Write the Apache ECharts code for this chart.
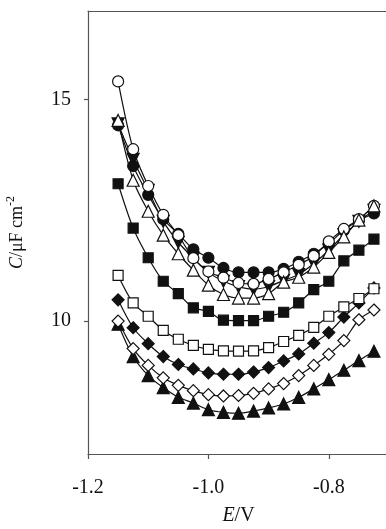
<!DOCTYPE html>
<html>
<head>
<meta charset="utf-8">
<script src="https://cdn.jsdelivr.net/npm/echarts@6/dist/echarts.min.js"></script>
<style>
  html, body { margin: 0; padding: 0; background: #fff; }
  #chart { width: 386px; height: 529px; }
</style>
</head>
<body>
<div id="chart"></div>
<script>
// Electrode potential E / V
const potentials = [-1.15, -1.125, -1.1, -1.075, -1.05, -1.025, -1.0, -0.975, -0.95,
  -0.925, -0.9, -0.875, -0.85, -0.825, -0.8, -0.775, -0.75, -0.725];

// Differential capacitance C / µF cm^-2, one array per curve
const openCircle   = [15.41, 13.88, 13.05, 12.40, 11.94, 11.42, 11.12, 10.98, 10.86, 10.84, 10.95, 11.10, 11.27, 11.47, 11.80, 12.08, 12.30, 12.60];
const filledCircle = [14.42, 13.50, 12.85, 12.30, 11.97, 11.62, 11.43, 11.20, 11.10, 11.10, 11.10, 11.18, 11.34, 11.52, 11.75, 12.05, 12.27, 12.43];
const downTriangle = [14.45, 13.65, 12.95, 12.25, 11.78, 11.42, 11.10, 10.90, 10.78, 10.72, 10.78, 10.92, 11.05, 11.30, 11.60, 11.95, 12.25, 12.50];
const openTriangle = [14.53, 13.18, 12.48, 11.94, 11.52, 11.15, 10.81, 10.60, 10.52, 10.52, 10.62, 10.88, 10.99, 11.22, 11.55, 11.90, 12.28, 12.60];
const filledSquare = [13.10, 12.10, 11.43, 10.90, 10.62, 10.30, 10.22, 10.02, 10.01, 10.01, 10.11, 10.20, 10.41, 10.71, 10.90, 11.36, 11.60, 11.85];
const openSquare   = [11.03, 10.41, 10.11, 9.79, 9.59, 9.45, 9.36, 9.33, 9.32, 9.33, 9.40, 9.54, 9.68, 9.86, 10.11, 10.32, 10.51, 10.73];
const filledDiamond = [10.48, 9.85, 9.49, 9.20, 9.02, 8.92, 8.83, 8.80, 8.80, 8.85, 8.95, 9.10, 9.26, 9.50, 9.74, 10.09, 10.41, 10.75];
const openDiamond  = [10.00, 9.38, 9.00, 8.72, 8.55, 8.43, 8.34, 8.31, 8.32, 8.37, 8.47, 8.59, 8.77, 9.00, 9.25, 9.56, 10.03, 10.25];
const filledTriangle = [9.93, 9.20, 8.77, 8.50, 8.28, 8.15, 8.00, 7.94, 7.92, 7.97, 8.04, 8.13, 8.28, 8.47, 8.68, 8.89, 9.11, 9.32];

const xTicks = [-1.2, -1.0, -0.8];
const yTicks = [10, 15];

const INK = '#111';
const AXIS = '#555';
const FONT = 'Liberation Serif';

function pairs(values) {
  return potentials.map((e, i) => [e, values[i]]);
}

function curve(values, symbol, filled, size, rotate) {
  return {
    type: 'line',
    data: pairs(values),
    smooth: 0.3,
    symbol: symbol,
    symbolSize: size,
    symbolRotate: rotate || 0,
    showSymbol: true,
    lineStyle: { color: INK, width: 1.2 },
    itemStyle: { color: filled ? INK : '#fff', borderColor: INK, borderWidth: 1.2 },
    emphasis: { disabled: true },
    animation: false
  };
}

const chart = echarts.init(document.getElementById('chart'), null, { renderer: 'canvas' });

chart.setOption({
  backgroundColor: '#fff',
  animation: false,
  grid: { left: 88, top: 11, right: -3, bottom: 75, containLabel: false, outerBoundsMode: 'none' },
  xAxis: [{
    type: 'value',
    min: -1.2,
    max: -0.7,
    position: 'bottom',
    splitLine: { show: false },
    axisLine: { show: true, onZero: false, lineStyle: { color: AXIS, width: 1.2 } },
    axisTick: { show: true, customValues: xTicks, length: 5, inside: false, lineStyle: { color: AXIS, width: 1.2 } },
    axisLabel: {
      customValues: xTicks,
      formatter: v => v.toFixed(1),
      color: INK, fontFamily: FONT, fontSize: 20, margin: 24
    },
    name: '{i|E}{n|/V}',
    nameLocation: 'middle',
    nameGap: 52,
    nameTextStyle: {
      rich: {
        i: { fontFamily: FONT, fontSize: 20, fontStyle: 'italic', color: INK },
        n: { fontFamily: FONT, fontSize: 20, color: INK }
      }
    }
  }, {
    type: 'value',
    min: -1.2,
    max: -0.7,
    position: 'top',
    splitLine: { show: false },
    axisLine: { show: true, onZero: false, lineStyle: { color: AXIS, width: 1.2 } },
    axisTick: { show: false },
    axisLabel: { show: false }
  }],
  yAxis: {
    type: 'value',
    min: 7,
    max: 17,
    splitLine: { show: false },
    axisLine: { show: true, onZero: false, lineStyle: { color: AXIS, width: 1.2 } },
    axisTick: { show: true, customValues: yTicks, length: 4, lineStyle: { color: AXIS, width: 1.2 } },
    axisLabel: {
      customValues: yTicks,
      color: INK, fontFamily: FONT, fontSize: 20, margin: 17
    },
    name: '{i|C}{n|/μF cm}{s|-2}',
    nameLocation: 'middle',
    nameGap: 62,
    nameRotate: 90,
    nameTextStyle: {
      rich: {
        i: { fontFamily: FONT, fontSize: 18, fontStyle: 'italic', color: INK, lineHeight: 21, verticalAlign: 'bottom' },
        n: { fontFamily: FONT, fontSize: 18, color: INK, lineHeight: 21, verticalAlign: 'bottom' },
        s: { fontFamily: FONT, fontSize: 12, color: INK, lineHeight: 21, verticalAlign: 'top' }
      }
    }
  },
  series: [
    curve(filledTriangle, 'triangle', true, 12),
    curve(openDiamond, 'diamond', false, 12),
    curve(filledDiamond, 'diamond', true, 12),
    curve(openSquare, 'rect', false, 10),
    curve(filledSquare, 'rect', true, 10),
    curve(filledCircle, 'circle', true, 11),
    curve(downTriangle, 'triangle', true, 12, 180),
    curve(openCircle, 'circle', false, 11),
    curve(openTriangle, 'triangle', false, 12)
  ]
});
</script>
</body>
</html>
